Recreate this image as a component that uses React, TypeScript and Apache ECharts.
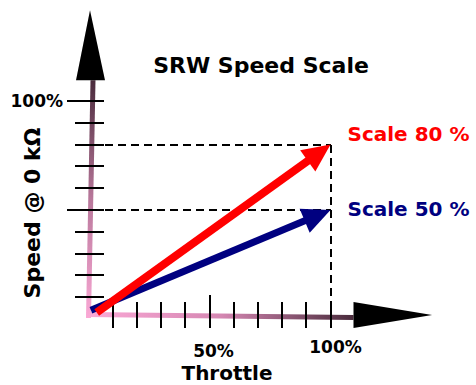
import { useEffect, useRef } from 'react';
import * as echarts from 'echarts';

// ---- data ----
const tickValues = [10, 20, 30, 40, 50, 60, 70, 80, 90, 100];
const longYTicks = [50, 100];
const longXTicks = [50];
const guideLevels = [80, 50];
const guideX = 100;
const xLabelValues = [50, 100];
const xLabelTexts = ['50%', '100%'];
const yLabelValues = [100];
const yLabelTexts = ['100%'];
const seriesNames = ['Scale 80 %', 'Scale 50 %'];
const seriesColors = ['#ff0000', '#000080'];
const scale80 = [3.4, 3.0, 100, 80];
const scale50 = [1.0, 4.0, 100, 50];
const titleText = 'SRW Speed Scale';
const xAxisName = 'Throttle';
const yAxisName = 'Speed @ 0 kΩ';

const FONT = 'DejaVu Sans';
const r = (n: number) => Math.round(n);

export default function App() {
  const ref = useRef<HTMLDivElement>(null);
  useEffect(() => {
    if (!ref.current) return;
    const chart = echarts.init(ref.current, undefined, { renderer: 'svg' });

    const axesSeries = {
      type: 'custom',
      silent: true,
      z: 1,
      data: [[0, 0]],
      renderItem: (_p: any, api: any) => {
        const o = api.coord([0, 0]);
        const xEnd = api.coord([109.5, 0]);
        const xTip = api.coord([142, 0]);
        const yEnd = api.coord([0, 109.5]);
        const yTip = api.coord([0, 141.6]);
        const xGrad = new echarts.graphic.LinearGradient(o[0], 0, xEnd[0], 0, [
          { offset: 0, color: '#fba9d6' },
          { offset: 0.5, color: '#d587b2' },
          { offset: 1, color: '#4a2b3c' },
        ], true);
        const yGrad = new echarts.graphic.LinearGradient(0, o[1], 0, yEnd[1], [
          { offset: 0, color: '#fba9d6' },
          { offset: 0.5, color: '#b9789b' },
          { offset: 1, color: '#4a2b3c' },
        ], true);
        return {
          type: 'group',
          children: [
            {
              type: 'line',
              shape: { x1: o[0] - 2, y1: o[1] - 4.5, x2: xEnd[0], y2: o[1] - 1.5 },
              style: { stroke: xGrad, lineWidth: 5 },
            },
            {
              type: 'polygon',
              shape: { points: [[xEnd[0], o[1] - 17], [xEnd[0], o[1] + 9], [xTip[0], o[1] - 4]] },
              style: { fill: '#000' },
            },
            {
              type: 'line',
              shape: { x1: o[0], y1: o[1] - 1, x2: o[0] + 4.5, y2: yEnd[1] },
              style: { stroke: yGrad, lineWidth: 5 },
            },
            {
              type: 'polygon',
              shape: { points: [[o[0] - 12.5, yEnd[1]], [o[0] + 16.5, yEnd[1]], [o[0] + 1.5, yTip[1]]] },
              style: { fill: '#000' },
            },
          ],
        };
      },
    };

    const yTickSeries = {
      type: 'custom',
      silent: true,
      z: 2,
      data: tickValues.map((v) => [0, v]),
      renderItem: (_p: any, api: any) => {
        const v = api.value(1);
        const p = api.coord([0, v]);
        const long = longYTicks.includes(v);
        const y = r(p[1]);
        return {
          type: 'line',
          shape: { x1: r(p[0] - (long ? 21.5 : 13.5)), y1: y, x2: r(p[0] + 15.5), y2: y },
          style: { stroke: '#000', lineWidth: 2 },
        };
      },
    };

    const xTickSeries = {
      type: 'custom',
      silent: true,
      z: 2,
      data: tickValues.map((v) => [v, 0]),
      renderItem: (_p: any, api: any) => {
        const v = api.value(0);
        const p = api.coord([v, 0]);
        const long = longXTicks.includes(v);
        const x = r(p[0]);
        return {
          type: 'line',
          shape: { x1: x, y1: r(p[1] - (long ? 24 : 17)), x2: x, y2: r(p[1] + 9) },
          style: { stroke: '#000', lineWidth: 2 },
        };
      },
    };

    const guideSeries = {
      type: 'custom',
      silent: true,
      z: 2,
      data: guideLevels.map((l) => [guideX, l]),
      renderItem: (params: any, api: any) => {
        const lvl = api.value(1);
        const p = api.coord([guideX, lvl]);
        const o = api.coord([0, 0]);
        const x = r(p[0]);
        const y = r(p[1]);
        const children: any[] = [
          {
            type: 'line',
            shape: { x1: r(o[0] + 16), y1: y, x2: x, y2: y },
            style: { stroke: '#000', lineWidth: 2, lineDash: [8, 5] },
          },
        ];
        if (params.dataIndex === 0) {
          children.push({
            type: 'line',
            shape: { x1: x, y1: y, x2: x, y2: r(o[1] - 14) },
            style: { stroke: '#000', lineWidth: 2, lineDash: [8, 5] },
          });
        }
        return { type: 'group', children };
      },
    };

    const makeArrow = (vals: number[], idx: number, width: number, labelDy: number) => ({
      type: 'custom',
      name: seriesNames[idx],
      silent: true,
      z: 3,
      data: [vals],
      renderItem: (_p: any, api: any) => {
        const s = api.coord([api.value(0), api.value(1)]);
        const e = api.coord([api.value(2), api.value(3)]);
        const dx = e[0] - s[0];
        const dy = e[1] - s[1];
        const len = Math.sqrt(dx * dx + dy * dy);
        const ux = dx / len;
        const uy = dy / len;
        const headL = 28;
        const headW = 13;
        const bx = e[0] - ux * headL;
        const by = e[1] - uy * headL;
        const nx = -uy;
        const ny = ux;
        return {
          type: 'group',
          children: [
            {
              type: 'line',
              shape: { x1: s[0], y1: s[1], x2: bx + ux * 2, y2: by + uy * 2 },
              style: { stroke: seriesColors[idx], lineWidth: width },
            },
            {
              type: 'polygon',
              shape: {
                points: [
                  [e[0], e[1]],
                  [bx + nx * headW, by + ny * headW],
                  [bx - nx * headW, by - ny * headW],
                ],
              },
              style: { fill: seriesColors[idx] },
            },
            {
              type: 'text',
              x: e[0] + 17,
              y: e[1] + labelDy,
              style: {
                text: seriesNames[idx],
                fill: seriesColors[idx],
                font: `bold 20px "${FONT}"`,
                textAlign: 'left',
                textVerticalAlign: 'middle',
              },
            },
          ],
        };
      },
    });

    const xLabelSeries = {
      type: 'custom',
      silent: true,
      z: 4,
      data: xLabelValues.map((v) => [v, 0]),
      renderItem: (params: any, api: any) => {
        const v = api.value(0);
        const p = api.coord([v, 0]);
        const i = params.dataIndex;
        return {
          type: 'text',
          x: p[0] + (i === 0 ? 4 : 5),
          y: p[1] + (i === 0 ? 32 : 28),
          style: {
            text: xLabelTexts[i],
            fill: '#000',
            font: `bold 17px "${FONT}"`,
            textAlign: 'center',
            textVerticalAlign: 'middle',
          },
        };
      },
    };

    const yLabelSeries = {
      type: 'custom',
      silent: true,
      z: 4,
      data: yLabelValues.map((v) => [0, v]),
      renderItem: (params: any, api: any) => {
        const v = api.value(1);
        const p = api.coord([0, v]);
        return {
          type: 'text',
          x: p[0] - 25.5,
          y: p[1],
          style: {
            text: yLabelTexts[params.dataIndex],
            fill: '#000',
            font: `bold 17px "${FONT}"`,
            textAlign: 'right',
            textVerticalAlign: 'middle',
          },
        };
      },
    };

    chart.setOption({
      animation: false,
      backgroundColor: '#ffffff',
      title: {
        text: titleText,
        left: 256,
        top: 49,
        textAlign: 'center',
        textStyle: { fontFamily: FONT, fontWeight: 'bold', fontSize: 22, color: '#000' },
      },
      grid: { left: 88.5, top: 101, width: 242, height: 218 },
      xAxis: { type: 'value', min: 0, max: 100, interval: 10, show: false },
      yAxis: { type: 'value', min: 0, max: 100, interval: 10, show: false },
      graphic: [
        {
          type: 'text',
          x: 227,
          y: 373,
          style: {
            text: xAxisName,
            fill: '#000',
            font: `bold 20px "${FONT}"`,
            textAlign: 'center',
            textVerticalAlign: 'middle',
          },
        },
        {
          type: 'text',
          x: 32,
          y: 213,
          rotation: Math.PI / 2,
          style: {
            text: yAxisName,
            fill: '#000',
            font: `bold 22px "${FONT}"`,
            textAlign: 'center',
            textVerticalAlign: 'middle',
          },
        },
      ],
      series: [
        axesSeries,
        yTickSeries,
        xTickSeries,
        guideSeries,
        makeArrow(scale50, 1, 7, -1),
        makeArrow(scale80, 0, 8, -11),
        xLabelSeries,
        yLabelSeries,
      ],
    });
    return () => chart.dispose();
  }, []);
  return <div ref={ref} style={{ width: 476, height: 385, position: 'absolute', left: 0, top: 0 }} />;
}
